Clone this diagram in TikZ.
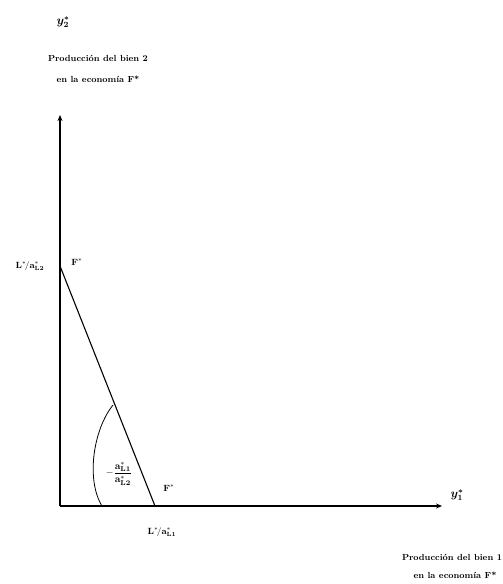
\documentclass[tikz,border=0pt]{standalone}
\usepackage{amsmath,bm}
\usetikzlibrary{arrows.meta}
\begin{document}
\begin{tikzpicture}[x=1pt,y=-1pt,
  axis/.style={line width=1.1pt,-{Stealth[length=6pt,width=5pt]}},
  lbl/.style={font=\fontsize{8.8}{10}\selectfont\bfseries,inner sep=0pt},
  mlbl/.style={font=\fontsize{9}{10}\selectfont,inner sep=0pt},
  flbl/.style={font=\fontsize{10}{12}\selectfont,inner sep=0pt},
  vlbl/.style={font=\fontsize{12}{13}\selectfont,inner sep=0pt}]
\useasboundingbox (0,0) rectangle (503,584);
\coordinate (O) at (60,506);
\coordinate (ytop) at (60,115);
\coordinate (xend) at (442,506);
\coordinate (A) at (60,266);
\coordinate (B) at (155,506);
\coordinate (arcTop) at (113,405);
\coordinate (arcBot) at (102,506);
\draw[axis] (O) -- (ytop);
\draw[axis] (O) -- (xend);
\draw[line width=1.1pt] (A) -- (B);
\draw[line width=0.8pt] (arcTop) .. controls (93,430) and (86,480) .. (arcBot);
\node[vlbl] (ylab) at (63,22) {$\bm{y^*_2}$};
\node[lbl] (yt1) at (98,58) {Producción del bien 2};
\node[lbl] (yt2) at (98,79) {en la economía F*};
\node[mlbl] (ain) at (30,266) {$\mathbf{L^*\!/a^*_{L2}}$};
\node[mlbl] (Flab) at (77,262) {$\mathbf{F^*}$};
\node[flbl] (slope) at (119,474) {$\mathbf{-\dfrac{a^*_{L1}}{a^*_{L2}}}$};
\node[mlbl] (Plab) at (169,488) {$\mathbf{F^*}$};
\node[mlbl] (bin) at (162,532) {$\mathbf{L^*\!/a^*_{L1}}$};
\node[vlbl] (xlab) at (457,495) {$\bm{y^*_1}$};
\node[lbl] (xt1) at (452,557) {Producción del bien 1};
\node[lbl] (xt2) at (455,575) {en la economía F*};
\end{tikzpicture}
\end{document}
